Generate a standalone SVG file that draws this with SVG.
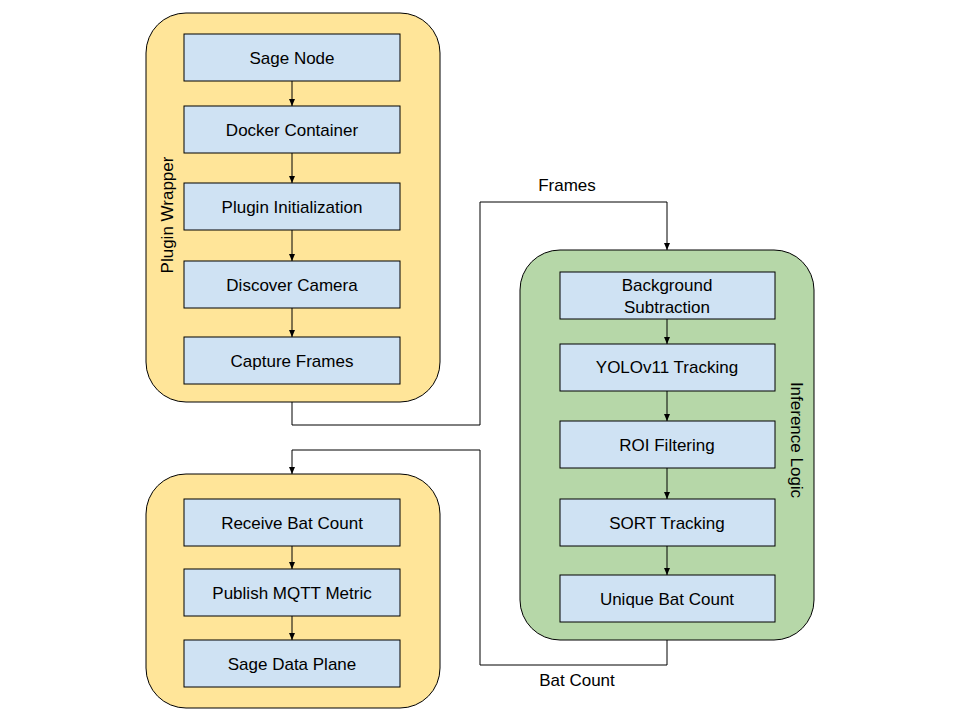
<svg xmlns="http://www.w3.org/2000/svg" width="960" height="720" viewBox="0 0 960 720">
<style>
.y{fill:#ffe599;stroke:#000;stroke-width:1}
.g{fill:#b6d7a8;stroke:#000;stroke-width:1}
.b{fill:#cfe2f3;stroke:#000;stroke-width:1}
text{font-family:"Liberation Sans",Arial,sans-serif;font-size:17px;fill:#000;text-anchor:middle;dominant-baseline:central}
.c{fill:none;stroke:#000;stroke-width:1}
</style>
<defs><marker id="a" markerWidth="8" markerHeight="8" refX="7" refY="4" orient="auto" markerUnits="userSpaceOnUse"><path d="M0,1 L7,4 L0,7 Z" fill="#000"/></marker></defs>
<rect width="960" height="720" fill="#fff"/>
<g id="wrapper"><rect class="y" x="146" y="13" width="294" height="389" rx="40"/><text transform="translate(167,215) rotate(-90)">Plugin Wrapper</text></g>
<g id="inference"><rect class="g" x="520" y="250" width="294" height="390" rx="40"/><text transform="translate(796,440) rotate(90)">Inference Logic</text></g>
<g id="output"><rect class="y" x="146" y="474" width="294" height="234" rx="40"/></g>
<g id="n1"><rect class="b" x="184" y="34" width="216" height="47"/><text x="292" y="58">Sage Node</text></g>
<g id="n2"><rect class="b" x="184" y="106" width="216" height="47"/><text x="292" y="130">Docker Container</text></g>
<g id="n3"><rect class="b" x="184" y="183" width="216" height="47"/><text x="292" y="207">Plugin Initialization</text></g>
<g id="n4"><rect class="b" x="184" y="261" width="216" height="47"/><text x="292" y="285">Discover Camera</text></g>
<g id="n5"><rect class="b" x="184" y="337" width="216" height="47"/><text x="292" y="361">Capture Frames</text></g>
<g id="m1"><rect class="b" x="560" y="272" width="215" height="47"/><text x="667" y="285">Background</text><text x="667" y="307">Subtraction</text></g>
<g id="m2"><rect class="b" x="560" y="344" width="215" height="47"/><text x="667" y="367">YOLOv11 Tracking</text></g>
<g id="m3"><rect class="b" x="560" y="421" width="215" height="47"/><text x="667" y="445">ROI Filtering</text></g>
<g id="m4"><rect class="b" x="560" y="499" width="215" height="47"/><text x="667" y="523">SORT Tracking</text></g>
<g id="m5"><rect class="b" x="560" y="575" width="215" height="47"/><text x="667" y="599">Unique Bat Count</text></g>
<g id="o1"><rect class="b" x="184" y="499" width="216" height="47"/><text x="292" y="523">Receive Bat Count</text></g>
<g id="o2"><rect class="b" x="184" y="569" width="216" height="47"/><text x="292" y="593">Publish MQTT Metric</text></g>
<g id="o3"><rect class="b" x="184" y="640" width="216" height="47"/><text x="292" y="664">Sage Data Plane</text></g>
<g id="connectors">
<path class="c" marker-end="url(#a)" d="M292,81 V106"/>
<path class="c" marker-end="url(#a)" d="M292,153 V183"/>
<path class="c" marker-end="url(#a)" d="M292,230 V261"/>
<path class="c" marker-end="url(#a)" d="M292,308 V337"/>
<path class="c" marker-end="url(#a)" d="M667,319 V344"/>
<path class="c" marker-end="url(#a)" d="M667,391 V421"/>
<path class="c" marker-end="url(#a)" d="M667,468 V499"/>
<path class="c" marker-end="url(#a)" d="M667,546 V575"/>
<path class="c" marker-end="url(#a)" d="M292,546 V569"/>
<path class="c" marker-end="url(#a)" d="M292,616 V640"/>
<path class="c" marker-end="url(#a)" d="M292,402 V425 H480 V202 H667 V250"/>
<path class="c" marker-end="url(#a)" d="M667,640 V665 H480 V450 H292 V474"/>
<text x="567" y="185">Frames</text>
<text x="577" y="680">Bat Count</text>
</g>
</svg>
